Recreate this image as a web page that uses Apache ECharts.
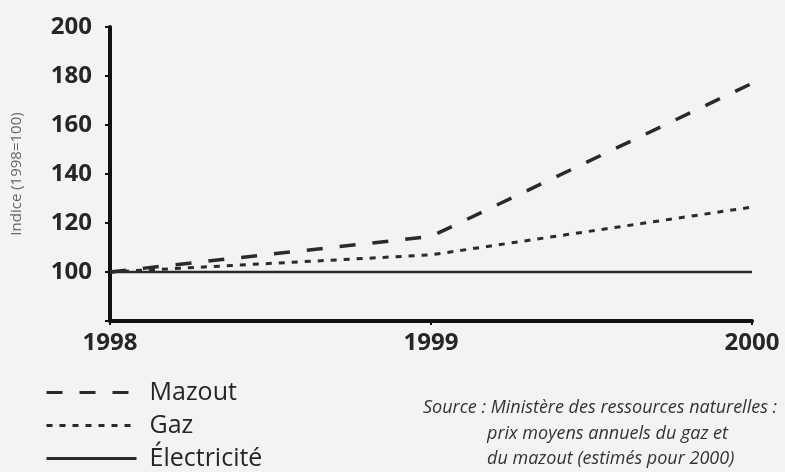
<!DOCTYPE html>
<html>
<head>
<meta charset="utf-8">
<script src="https://cdn.jsdelivr.net/npm/echarts@6/dist/echarts.min.js"></script>
<style>
html,body{margin:0;padding:0;background:#f3f3f1;}
#chart{width:785px;height:472px;}
</style>
</head>
<body>
<div id="chart"></div>
<script>
var years = [1998, 1999, 2000];
var mazout = [100, 114.5, 177];
var gaz = [100, 107, 126.5];
var electricite = [100, 100, 100];
var yTicks = [100, 120, 140, 160, 180, 200];

function pairs(vals) {
    return years.map(function (y, i) { return [y, vals[i]]; });
}

var chart = echarts.init(document.getElementById('chart'));
var font = '"Open Sans", sans-serif';
var ink = '#262626';

var option = {
    backgroundColor: '#f3f3f1',
    animation: false,
    textStyle: { fontFamily: font },
    grid: { left: 110, right: 33, top: 27, bottom: 151 },
    legend: {
        orient: 'vertical',
        left: 45,
        top: 380,
        padding: 0,
        itemWidth: 90,
        itemHeight: 14,
        itemGap: 8,
        itemStyle: { opacity: 0 },
        lineStyle: { width: 3 },
        textStyle: { fontSize: 25, lineHeight: 25, color: ink, fontFamily: font, padding: [0, 0, 0, 8] },
        data: ['Mazout', 'Gaz', 'Électricité']
    },
    xAxis: {
        type: 'value',
        min: 1998,
        max: 2000,
        interval: 1,
        axisLine: { lineStyle: { color: '#111', width: 4 } },
        axisTick: { length: 4, lineStyle: { color: '#111', width: 2 } },
        splitLine: { show: false },
        axisLabel: {
            fontSize: 24, fontWeight: 'bold', color: ink, margin: 10,
            fontFamily: font,
            formatter: function (v) { return String(v); }
        }
    },
    yAxis: {
        type: 'value',
        min: 80,
        max: 200,
        interval: 20,
        name: 'Indice (1998=100)',
        nameLocation: 'middle',
        nameGap: 86,
        nameTextStyle: { fontSize: 15, color: '#666', fontFamily: font },
        axisLine: { show: true, lineStyle: { color: '#111', width: 4 } },
        axisTick: { show: true, length: 5, lineStyle: { color: '#111', width: 2 } },
        splitLine: { show: false },
        axisLabel: {
            fontSize: 24, fontWeight: 'bold', color: ink, margin: 18,
            fontFamily: font,
            formatter: function (v) { return yTicks.indexOf(v) >= 0 ? String(v) : ''; }
        }
    },
    series: [
        {
            name: 'Mazout', type: 'line', symbol: 'none',
            lineStyle: { color: '#2a2a2a', width: 3.5, type: [16, 17] },
            itemStyle: { color: '#2a2a2a' },
            data: pairs(mazout)
        },
        {
            name: 'Gaz', type: 'line', symbol: 'none',
            lineStyle: { color: '#2a2a2a', width: 3, type: [6, 7] },
            itemStyle: { color: '#2a2a2a' },
            data: pairs(gaz)
        },
        {
            name: 'Électricité', type: 'line', symbol: 'none',
            lineStyle: { color: '#2a2a2a', width: 2.5 },
            itemStyle: { color: '#2a2a2a' },
            data: pairs(electricite)
        }
    ],
    graphic: [
        { type: 'text', left: 423, top: 399,
          style: { text: 'Source : Ministère des ressources naturelles :', font: 'italic 18px "Open Sans"', fill: '#333' } },
        { type: 'text', left: 487, top: 425,
          style: { text: 'prix moyens annuels du gaz et', font: 'italic 18px "Open Sans"', fill: '#333' } },
        { type: 'text', left: 487, top: 450,
          style: { text: 'du mazout (estimés pour 2000)', font: 'italic 18px "Open Sans"', fill: '#333' } }
    ]
};
chart.setOption(option);
</script>
</body>
</html>
